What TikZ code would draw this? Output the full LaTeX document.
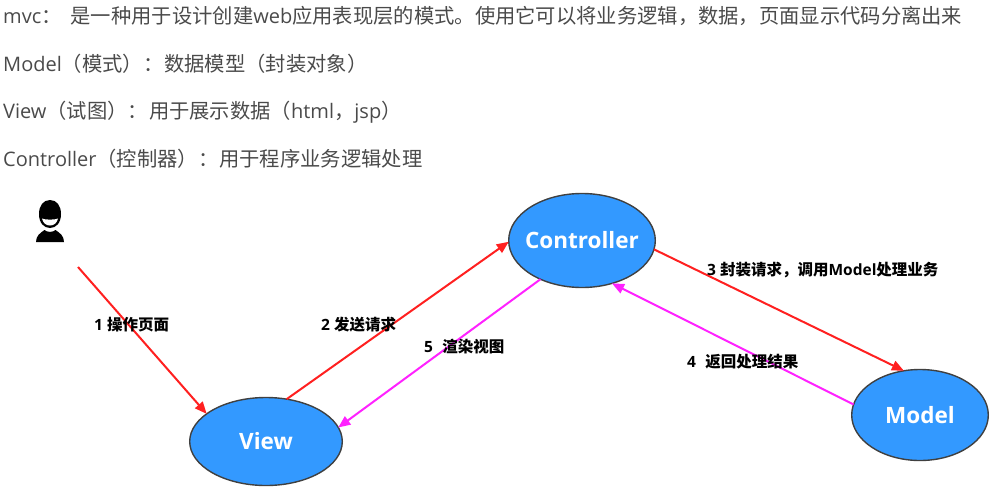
\documentclass[tikz,border=0pt]{standalone}
\usepackage{fontspec}
\usetikzlibrary{shapes.geometric,arrows.meta}
\setmainfont{Open Sans}
\newfontfamily\cjk{Noto Sans CJK SC}[Scale=1.015]
\newfontfamily\cjkb{Noto Sans CJK SC Bold}
\newcommand{\zh}[1]{{\cjk #1}}
\newcommand{\zb}[1]{{\cjkb #1}}
\definecolor{bodytext}{HTML}{4A4A4A}
\definecolor{nodeblue}{HTML}{3399FF}
\definecolor{nodeedge}{HTML}{404040}
\definecolor{flowred}{HTML}{FF2020}
\definecolor{flowpink}{HTML}{FF22FF}
\tikzset{
  x=1pt,y=-1pt,
  bodyline/.style={anchor=base west,inner sep=0pt,text=bodytext,font=\fontsize{20}{24}\selectfont},
  mvcnode/.style={ellipse,draw=nodeedge,line width=1.4pt,fill=nodeblue,inner ysep=0pt,inner xsep=-12pt,outer sep=0pt,text=white,font=\bfseries\fontsize{22.5}{26}\selectfont},
  flowlabel/.style={anchor=base west,inner sep=0pt,text=black,font=\bfseries\fontsize{15.5}{18}\selectfont},
  flow/.style={line width=2pt,-{Triangle[length=12pt,width=10pt]}},
  redflow/.style={flow,draw=flowred,color=flowred},
  pinkflow/.style={flow,draw=flowpink,color=flowpink},
}
\begin{document}
\begin{tikzpicture}
\useasboundingbox (0,0) rectangle (993,493);
% text lines
\node[bodyline] (l1) at (3,23) {mvc\zh{：}\hspace{9pt}\zh{是一种用于设计创建}web\zh{应用表现层的模式。使用它可以将业务逻辑，数据，页面显示代码分离出来}};
\node[bodyline] (l2) at (3,71) {Model\zh{（模式）：}\hspace{1pt}\zh{数据模型（封装对象）}};
\node[bodyline] (l3) at (3,118) {View\zh{（试图）：}\hspace{1pt}\zh{用于展示数据（}html\zh{，}jsp\zh{）}};
\node[bodyline] (l4) at (3,166) {Controller\zh{（控制器）：}\hspace{1pt}\zh{用于程序业务逻辑处理}};
% user icon
\fill[black] (50,200) .. controls (43,200) and (39,206) .. (39,214)
  .. controls (39,223) and (44,228) .. (50,228)
  .. controls (56,228) and (61,223) .. (61,214)
  .. controls (61,206) and (57,200) .. (50,200) -- cycle;
\fill[white] (42,218.5) .. controls (45,220) and (55,220) .. (58,218.5)
  .. controls (57,223) and (54,225.5) .. (50,225.5)
  .. controls (46,225.5) and (43,223) .. (42,218.5) -- cycle;
\fill[black] (36,242) .. controls (36,236) and (40,233) .. (44.5,230)
  .. controls (47,232.5) and (53,232.5) .. (55.5,230)
  .. controls (60,233) and (64,236) .. (64,242) -- cycle;
\coordinate (user) at (78,267);
% nodes
\node[mvcnode,minimum width=146.6pt,minimum height=94pt] (ctrl) at (582,240.5) {\raisebox{-1pt}{Controller}};
\node[mvcnode,minimum width=152.6pt,minimum height=88pt] (view) at (266,441.5) {View};
\node[mvcnode,minimum width=136.6pt,minimum height=91pt] (model) at (920,415) {\raisebox{-0.5pt}{Model}};
% connectors
\draw[redflow] (user) -- (view.155.7);
\draw[redflow] (view.64.2) -- (ctrl.181);
\draw[redflow] (ctrl.-7.7) -- (model.110.7);
\draw[pinkflow] (model.171.8) -- (ctrl.-55.4);
\draw[pinkflow] (ctrl.223.6) -- (view.11.1);
% labels
\node[flowlabel] (t1) at (94,330) {1 \zb{操作页面}};
\node[flowlabel] (t2) at (321,330) {2 \zb{发送请求}};
\node[flowlabel] (t3) at (707,275) {3 \zb{封装请求，调用}Model\zb{处理业务}};
\node[flowlabel] (t4) at (687,367) {4\hspace{0.6em}\zb{返回处理结果}};
\node[flowlabel] (t5) at (424,352) {5\hspace{0.6em}\zb{渲染视图}};
\end{tikzpicture}
\end{document}
